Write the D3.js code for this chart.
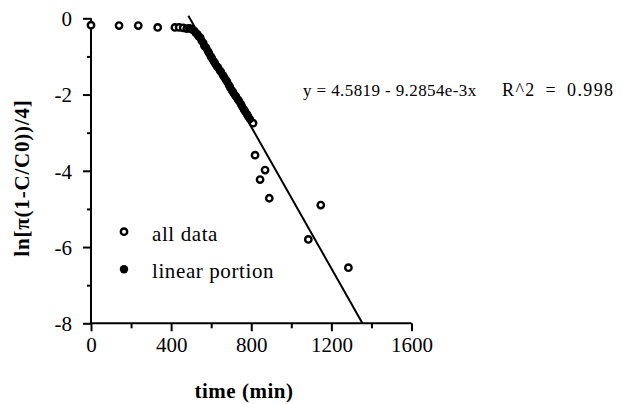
<!DOCTYPE html>
<html lang="en">
  <head>
      <meta charset="utf-8">
      <title>ln plot</title>
      <script type="text/javascript" src="https://cdn.jsdelivr.net/npm/d3@7"></script>
      <style>
        body { margin: 0; background: #fff; }
        text { font-family: "Liberation Serif", "Times New Roman", serif; fill: #000; }
      </style>
  </head>
  <body>
      <script type="text/javascript">

      // points that are only "all data" (open circles)
      var openTime  = [0, 140, 236, 333, 419, 440, 460, 478, 809, 819, 844, 869, 890, 1085, 1147, 1285];
      var openValue = [-0.18, -0.19, -0.19, -0.24, -0.24, -0.24, -0.25, -0.27, -2.75, -3.59, -4.23, -3.98, -4.72, -5.80, -4.90, -6.54];

      // linear portion (filled circles)
      var linTime  = [490, 499, 508, 516, 522, 531, 537, 546, 552, 561, 566, 575, 583, 589, 598, 604, 613, 619, 628, 634,
                      643, 649, 658, 664, 673, 679, 688, 694, 703, 709, 718, 724, 733, 739, 748, 754, 763, 769, 778, 784, 793];
      var linValue = [-0.26, -0.27, -0.31, -0.33, -0.38, -0.42, -0.47, -0.51, -0.59, -0.65, -0.73, -0.77, -0.86, -0.91, -1.00, -1.05, -1.13, -1.18, -1.26, -1.29,
                      -1.37, -1.41, -1.49, -1.54, -1.61, -1.66, -1.75, -1.81, -1.89, -1.94, -2.01, -2.05, -2.13, -2.17, -2.25, -2.31, -2.39, -2.44, -2.51, -2.57, -2.64];

      var fitIntercept = 4.5819;
      var fitSlope = -9.2854e-3;
      var fitStart = 486;

      var xTicks = [0, 400, 800, 1200, 1600];
      var xMinor = [200, 600, 1000, 1400];
      var yTicks = [0, -2, -4, -6, -8];
      var yMinor = [-1, -3, -5, -7];

      var w = 622;
      var h = 404;

      var svg = d3.select("body").append("svg").attr("width", w).attr("height", h);

      var x = d3.scaleLinear().domain([0, 1600]).range([91, 411.5]);
      var y = d3.scaleLinear().domain([0, -8]).range([18.3, 323.3]);

      // axes (hyphen minus like the original)
      var fmt = function(d){ return String(d); };
      var xAxis = svg.append("g").attr("transform", "translate(0," + y(-8) + ")")
        .call(d3.axisBottom(x).tickValues(xTicks).tickSize(8).tickPadding(6).tickFormat(fmt));
      svg.append("g").attr("transform", "translate(0," + y(-8) + ")")
        .call(d3.axisBottom(x).tickValues(xMinor).tickSize(5).tickFormat(""))
        .select(".domain").remove();
      var yAxis = svg.append("g").attr("transform", "translate(" + x(0) + ",0)")
        .call(d3.axisLeft(y).tickValues(yTicks).tickSize(8).tickPadding(11).tickFormat(fmt));
      svg.append("g").attr("transform", "translate(" + x(0) + ",0)")
        .call(d3.axisLeft(y).tickValues(yMinor).tickSize(4).tickFormat(""))
        .select(".domain").remove();

      svg.selectAll(".domain").attr("stroke", "#000").attr("stroke-width", 2);
      xAxis.select(".domain").attr("d", "M" + x(0) + ",0H" + x(1600));
      yAxis.select(".domain").attr("d", "M0," + y(0) + "V" + y(-8));
      svg.selectAll(".tick line").attr("stroke", "#000").attr("stroke-width", 2);
      svg.selectAll(".tick text").attr("font-family", "Liberation Serif").attr("font-size", "21px").attr("fill", "#000");
      yAxis.selectAll(".tick text").attr("dy", "0.35em");

      // fit line
      svg.append("line")
        .attr("x1", x(fitStart)).attr("y1", y(fitIntercept + fitSlope * fitStart))
        .attr("x2", x((-8 - fitIntercept) / fitSlope)).attr("y2", y(-8))
        .attr("stroke", "#000").attr("stroke-width", 2);

      // open circles
      svg.selectAll("circle.open").data(openTime).enter().append("circle").attr("class", "open")
        .attr("cx", function(d){ return x(d); })
        .attr("cy", function(d, i){ return y(openValue[i]); })
        .attr("r", 3.2).attr("fill", "#fff").attr("stroke", "#000").attr("stroke-width", 2.4);

      // filled circles
      svg.selectAll("circle.lin").data(linTime).enter().append("circle").attr("class", "lin")
        .attr("cx", function(d){ return x(d); })
        .attr("cy", function(d, i){ return y(linValue[i]); })
        .attr("r", 4.2).attr("fill", "#000");

      // equation
      svg.append("text").attr("x", 303).attr("y", 96).attr("font-size", "17px").attr("letter-spacing", "0.4px")
        .text("y = 4.5819 - 9.2854e-3x");
      svg.append("text").attr("x", 502).attr("y", 96).attr("font-size", "18px")
        .attr("letter-spacing", "1.4px").attr("word-spacing", "4px")
        .text("R^2 = 0.998");

      // legend
      svg.append("circle").attr("cx", 124).attr("cy", 231.7).attr("r", 3.2)
        .attr("fill", "#fff").attr("stroke", "#000").attr("stroke-width", 2.4);
      svg.append("circle").attr("cx", 124).attr("cy", 269.3).attr("r", 4.2).attr("fill", "#000");
      svg.append("text").attr("x", 152).attr("y", 240.5).attr("font-size", "21px").attr("letter-spacing", "0.6px")
        .text("all data");
      svg.append("text").attr("x", 152).attr("y", 278).attr("font-size", "21px").attr("letter-spacing", "0.6px")
        .text("linear portion");

      // axis titles
      svg.append("text").attr("x", 244).attr("y", 398).attr("text-anchor", "middle")
        .attr("font-size", "21px").attr("font-weight", "bold").attr("letter-spacing", "0.5px")
        .text("time (min)");
      svg.append("text").attr("transform", "translate(29,178) rotate(-90)").attr("text-anchor", "middle")
        .attr("font-size", "21px").attr("font-weight", "bold").attr("letter-spacing", "0.8px")
        .text("ln[\u03c0(1-C/C0))/4]");

      </script>
  </body>
</html>
